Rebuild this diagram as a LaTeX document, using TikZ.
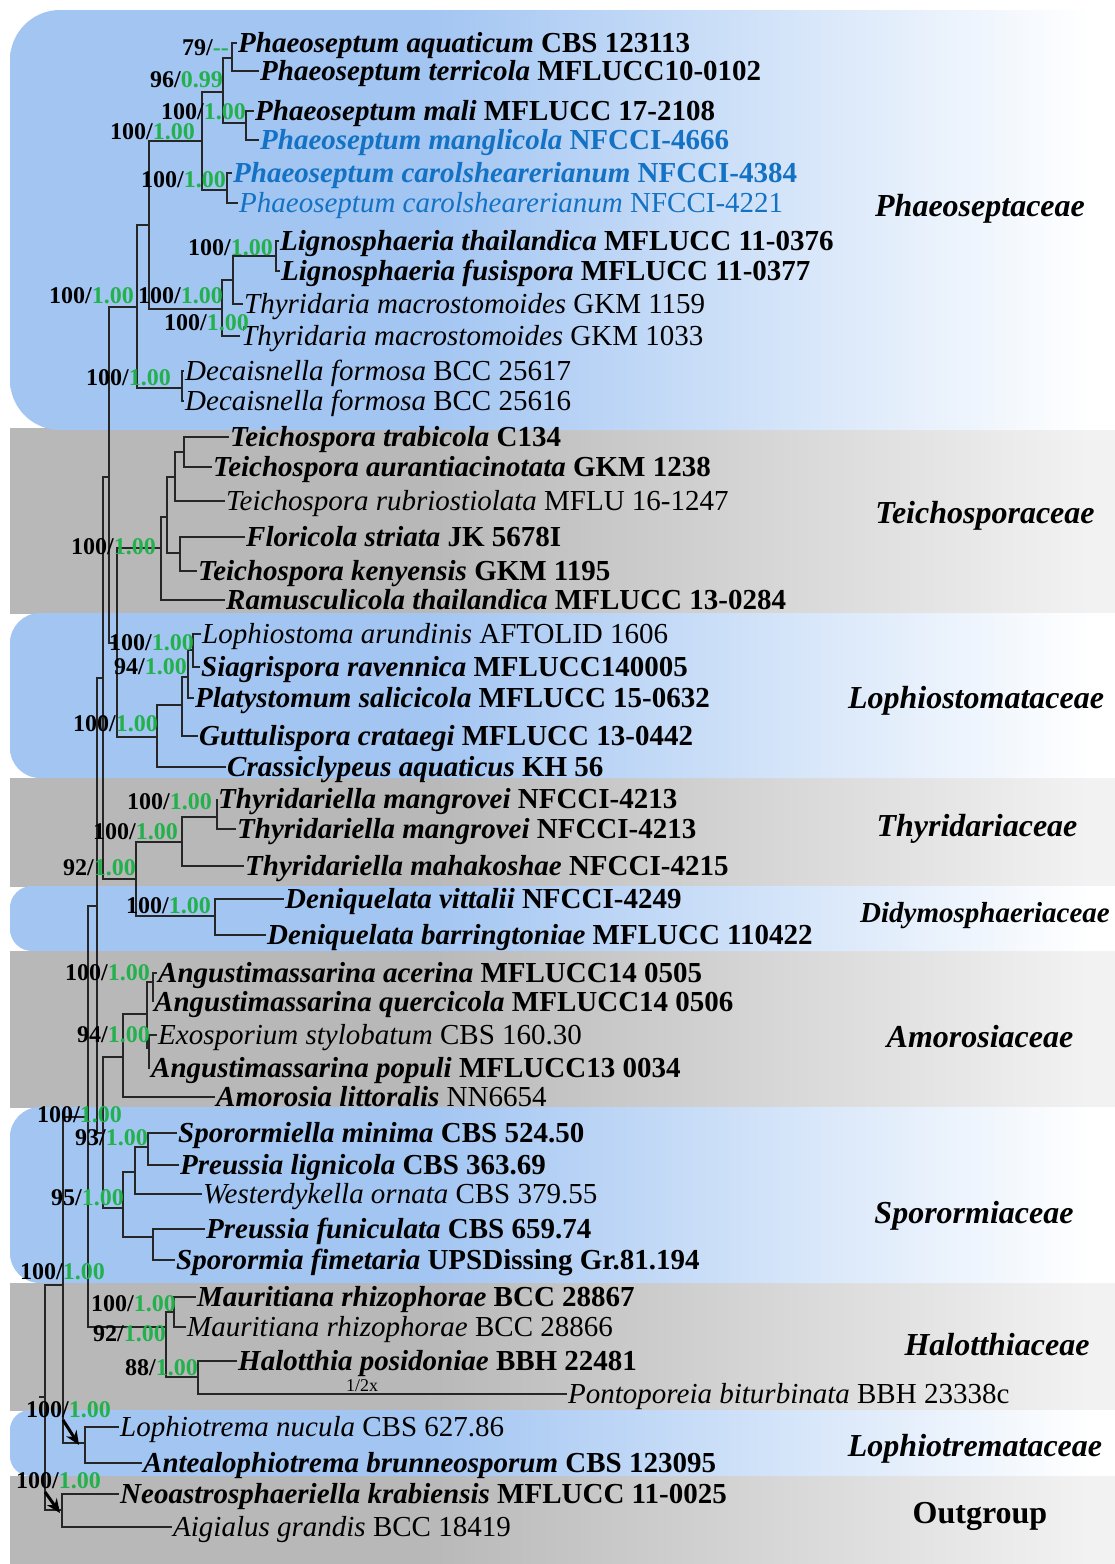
\documentclass[tikz,border=0pt]{standalone}
\usepackage{fontspec}
\setmainfont{Liberation Serif}
\usetikzlibrary{arrows.meta}

\definecolor{bandblue}{RGB}{162,197,242}
\definecolor{bandgray}{RGB}{184,184,184}
\definecolor{suppgreen}{RGB}{34,177,76}
\definecolor{taxblue}{RGB}{20,114,196}

\pgfdeclarehorizontalshading{blueband}{100bp}{color(0bp)=(bandblue); color(43bp)=(bandblue); color(72bp)=(white); color(100bp)=(white)}
\pgfdeclarehorizontalshading{grayband}{100bp}{color(0bp)=(bandgray); color(43bp)=(bandgray); color(72bp)=(black!5); color(100bp)=(black!5)}

\newcommand{\taxB}[2]{\textbf{\textit{#1} #2}}
\newcommand{\taxR}[2]{\textit{#1} #2}
\newcommand{\supval}[2]{#1/\textcolor{suppgreen}{#2}}

\tikzset{
  taxon/.style={anchor=west, inner sep=1pt, text height=25pt, text depth=6pt, font=\fontsize{29}{32}\selectfont},
  bluetaxon/.style={taxon, text=taxblue},
  supp/.style={anchor=east, inner sep=0pt, font=\fontsize{24}{26}\selectfont\bfseries},
  family/.style={font=\fontsize{32}{36}\selectfont\bfseries\itshape},
  branch/.style={line width=1.2pt, draw=black!85},
  markarrow/.style={draw=black, line width=3pt, -{Stealth[length=14pt,width=12pt]}},
}

\begin{document}
\begin{tikzpicture}[x=1pt,y=-1pt]
\useasboundingbox (0,0) rectangle (1115,1564);

% family bands
\shade[shading=grayband] (10,428) rectangle (1160,613);
\shade[shading=grayband] (10,778) rectangle (1160,886);
\shade[shading=grayband] (10,951) rectangle (1160,1107);
\shade[shading=grayband] (10,1283) rectangle (1160,1410);
\shade[shading=grayband] (10,1476) rectangle (1160,1600);
\shade[shading=blueband, rounded corners=50] (10,10) rectangle (1160,430);
\shade[shading=blueband, rounded corners=30] (10,613) rectangle (1160,778);
\shade[shading=blueband, rounded corners=22] (10,886) rectangle (1160,951);
\shade[shading=blueband, rounded corners=30] (10,1107) rectangle (1160,1283);
\shade[shading=blueband, rounded corners=20] (10,1410) rectangle (1160,1476);

% family names
\node[family] (fPhae) at (980,209) {Phaeoseptaceae};
\node[family] (fTeic) at (985,516) {Teichosporaceae};
\node[family] (fLoph) at (976,701) {Lophiostomataceae};
\node[family] (fThyr) at (977,829) {Thyridariaceae};
\node[family, font=\fontsize{29}{32}\selectfont\bfseries\itshape] (fDidy) at (985,916) {Didymosphaeriaceae};
\node[family] (fAmor) at (980,1037) {Amorosiaceae};
\node[family] (fSpor) at (974,1216) {Sporormiaceae};
\node[family] (fHalo) at (997,1345) {Halotthiaceae};
\node[family] (fLotr) at (975,1449) {Lophiotremataceae};
\node[family, font=\fontsize{32}{36}\selectfont\bfseries] (fOut) at (980,1516) {Outgroup};

% taxa
\node[taxon] (l1) at (237,43) {\taxB{Phaeoseptum aquaticum}{CBS 123113}};
\node[taxon] (l2) at (259,71) {\taxB{Phaeoseptum terricola}{MFLUCC10-0102}};
\node[taxon] (l3) at (254,111) {\taxB{Phaeoseptum mali}{MFLUCC 17-2108}};
\node[bluetaxon] (l4) at (259,140) {\taxB{Phaeoseptum manglicola}{NFCCI-4666}};
\node[bluetaxon] (l5) at (232,173) {\taxB{Phaeoseptum carolshearerianum}{NFCCI-4384}};
\node[bluetaxon] (l6) at (238,203) {\taxR{Phaeoseptum carolshearerianum}{NFCCI-4221}};
\node[taxon] (l7) at (279,241) {\taxB{Lignosphaeria thailandica}{MFLUCC 11-0376}};
\node[taxon] (l8) at (280,271) {\taxB{Lignosphaeria fusispora}{MFLUCC 11-0377}};
\node[taxon] (l9) at (243,304) {\taxR{Thyridaria macrostomoides}{GKM 1159}};
\node[taxon] (l10) at (240,336) {\taxR{Thyridaria macrostomoides}{GKM 1033}};
\node[taxon] (l11) at (184,371) {\taxR{Decaisnella formosa}{BCC 25617}};
\node[taxon] (l12) at (184,401) {\taxR{Decaisnella formosa}{BCC 25616}};
\node[taxon] (l13) at (229,437) {\taxB{Teichospora trabicola}{C134}};
\node[taxon] (l14) at (212,467) {\taxB{Teichospora aurantiacinotata}{GKM 1238}};
\node[taxon] (l15) at (225,501) {\taxR{Teichospora rubriostiolata}{MFLU 16-1247}};
\node[taxon] (l16) at (245,537) {\taxB{Floricola striata}{JK 5678I}};
\node[taxon] (l17) at (197,571) {\taxB{Teichospora kenyensis}{GKM 1195}};
\node[taxon] (l18) at (225,600) {\taxB{Ramusculicola thailandica}{MFLUCC 13-0284}};
\node[taxon] (l19) at (201,634) {\taxR{Lophiostoma arundinis}{AFTOLID 1606}};
\node[taxon] (l20) at (200,667) {\taxB{Siagrispora ravennica}{MFLUCC140005}};
\node[taxon] (l21) at (194,698) {\taxB{Platystomum salicicola}{MFLUCC 15-0632}};
\node[taxon] (l22) at (198,736) {\taxB{Guttulispora crataegi}{MFLUCC 13-0442}};
\node[taxon] (l23) at (226,767) {\taxB{Crassiclypeus aquaticus}{KH 56}};
\node[taxon] (l24) at (217,799) {\taxB{Thyridariella mangrovei}{NFCCI-4213}};
\node[taxon] (l25) at (236,829) {\taxB{Thyridariella mangrovei}{NFCCI-4213}};
\node[taxon] (l26) at (244,866) {\taxB{Thyridariella mahakoshae}{NFCCI-4215}};
\node[taxon] (l27) at (284,899) {\taxB{Deniquelata vittalii}{NFCCI-4249}};
\node[taxon] (l28) at (266,935) {\taxB{Deniquelata barringtoniae}{MFLUCC 110422}};
\node[taxon] (l29) at (157,973) {\taxB{Angustimassarina acerina}{MFLUCC14 0505}};
\node[taxon] (l30) at (153,1002) {\taxB{Angustimassarina quercicola}{MFLUCC14 0506}};
\node[taxon] (l31) at (157,1035) {\taxR{Exosporium stylobatum}{CBS 160.30}};
\node[taxon] (l32) at (150,1068) {\taxB{Angustimassarina populi}{MFLUCC13 0034}};
\node[taxon] (l33) at (215,1097) {\textbf{\textit{Amorosia littoralis}} NN6654};
\node[taxon] (l34) at (177,1133) {\taxB{Sporormiella minima}{CBS 524.50}};
\node[taxon] (l35) at (179,1165) {\taxB{Preussia lignicola}{CBS 363.69}};
\node[taxon] (l36) at (202,1194) {\taxR{Westerdykella ornata}{CBS 379.55}};
\node[taxon] (l37) at (205,1229) {\taxB{Preussia funiculata}{CBS 659.74}};
\node[taxon] (l38) at (175,1260) {\taxB{Sporormia fimetaria}{UPSDissing Gr.81.194}};
\node[taxon] (l39) at (196,1297) {\taxB{Mauritiana rhizophorae}{BCC 28867}};
\node[taxon] (l40) at (186,1327) {\taxR{Mauritiana rhizophorae}{BCC 28866}};
\node[taxon] (l41) at (237,1361) {\taxB{Halotthia posidoniae}{BBH 22481}};
\node[taxon] (l42) at (567,1394) {\taxR{Pontoporeia biturbinata}{BBH 23338c}};
\node[taxon] (l43) at (119,1427) {\taxR{Lophiotrema nucula}{CBS 627.86}};
\node[taxon] (l44) at (142,1463) {\taxB{Antealophiotrema brunneosporum}{CBS 123095}};
\node[taxon] (l45) at (119,1494) {\taxB{Neoastrosphaeriella krabiensis}{MFLUCC 11-0025}};
\node[taxon] (l46) at (172,1527) {\taxR{Aigialus grandis}{BCC 18419}};

% internal nodes
\coordinate (root) at (39,1397);
\coordinate (n0) at (45,1397);
\coordinate (n1) at (63,1285);
\coordinate (nOut) at (62,1510);
\coordinate (nLtr) at (85,1443);
\coordinate (n2) at (88,1117);
\coordinate (n3) at (97,906);
\coordinate (n4) at (103,678);
\coordinate (n5) at (103,1133);
\coordinate (n6) at (109,477);
\coordinate (n7) at (117,643);
\coordinate (nHal) at (166,1327);
\coordinate (nMau) at (174,1312);
\coordinate (nHalo) at (198,1377);
\coordinate (nPhae) at (137,307);
\coordinate (nPL) at (149,225);
\coordinate (nDec) at (182,388);
\coordinate (nPh) at (202,141);
\coordinate (nP4) at (223,92);
\coordinate (nAT) at (232,58);
\coordinate (nMM) at (246,123);
\coordinate (nCar) at (227,190);
\coordinate (nThyr) at (222,309);
\coordinate (nLT) at (233,280);
\coordinate (nLig) at (276,256);
\coordinate (nTeich) at (161,548);
\coordinate (nT4) at (167,517);
\coordinate (nTR) at (175,477);
\coordinate (nTra) at (184,452);
\coordinate (nFlo) at (180,553);
\coordinate (nLoph) at (157,737);
\coordinate (nL4) at (182,705);
\coordinate (nL3) at (188,677);
\coordinate (nL2) at (193,650);
\coordinate (nThyDid) at (136,879);
\coordinate (nThy) at (182,842);
\coordinate (nThm) at (217,817);
\coordinate (nDid) at (215,916);
\coordinate (nAmor) at (123,1057);
\coordinate (nAng) at (147,1014);
\coordinate (nAcer) at (153,982);
\coordinate (nExo) at (149,1048);
\coordinate (nSpor) at (123,1208);
\coordinate (nS3) at (135,1172);
\coordinate (nS1) at (148,1147);
\coordinate (nS2) at (153,1237);

% backbone
\draw[branch] (root) -- (n0);
\draw[branch] (n0) |- (n1);
\draw[branch] (n0) |- (nOut);
\draw[branch] (n1) |- (n2);
\draw[branch] (n1) |- (nLtr);
\draw[branch] (n2) |- (n3);
\draw[branch] (n2) |- (nHal);
\draw[branch] (n3) |- (n4);
\draw[branch] (n3) |- (n5);
\draw[branch] (n4) |- (n6);
\draw[branch] (n4) |- (nThyDid);
\draw[branch] (n6) |- (nPhae);
\draw[branch] (n6) |- (n7);
\draw[branch] (n7) |- (nTeich);
\draw[branch] (n7) |- (nLoph);
\draw[branch] (n5) |- (nAmor);
\draw[branch] (n5) |- (nSpor);

% Phaeoseptaceae
\draw[branch] (nPhae) |- (nPL);
\draw[branch] (nPhae) |- (nDec);
\draw[branch] (nDec) |- (l11.west);
\draw[branch] (nDec) |- (l12.west);
\draw[branch] (nPL) |- (nPh);
\draw[branch] (nPL) |- (nThyr);
\draw[branch] (nPh) |- (nP4);
\draw[branch] (nPh) |- (nCar);
\draw[branch] (nP4) |- (nAT);
\draw[branch] (nP4) |- (nMM);
\draw[branch] (nAT) |- (l1.west);
\draw[branch] (nAT) |- (l2.west);
\draw[branch] (nMM) |- (l3.west);
\draw[branch] (nMM) |- (l4.west);
\draw[branch] (nCar) |- (l5.west);
\draw[branch] (nCar) |- (l6.west);
\draw[branch] (nThyr) |- (nLT);
\draw[branch] (nThyr) |- (l10.west);
\draw[branch] (nLT) |- (nLig);
\draw[branch] (nLT) |- (l9.west);
\draw[branch] (nLig) |- (l7.west);
\draw[branch] (nLig) |- (l8.west);

% Teichosporaceae
\draw[branch] (nTeich) |- (nT4);
\draw[branch] (nTeich) |- (l18.west);
\draw[branch] (nT4) |- (nTR);
\draw[branch] (nT4) |- (nFlo);
\draw[branch] (nTR) |- (nTra);
\draw[branch] (nTR) |- (l15.west);
\draw[branch] (nTra) |- (l13.west);
\draw[branch] (nTra) |- (l14.west);
\draw[branch] (nFlo) |- (l16.west);
\draw[branch] (nFlo) |- (l17.west);

% Lophiostomataceae
\draw[branch] (nLoph) |- (nL4);
\draw[branch] (nLoph) |- (l23.west);
\draw[branch] (nL4) |- (nL3);
\draw[branch] (nL4) |- (l22.west);
\draw[branch] (nL3) |- (nL2);
\draw[branch] (nL3) |- (l21.west);
\draw[branch] (nL2) |- (l19.west);
\draw[branch] (nL2) |- (l20.west);

% Thyridariaceae and Didymosphaeriaceae
\draw[branch] (nThyDid) |- (nThy);
\draw[branch] (nThyDid) |- (nDid);
\draw[branch] (nThy) |- (nThm);
\draw[branch] (nThy) |- (l26.west);
\draw[branch] (nThm) |- (l24.west);
\draw[branch] (nThm) |- (l25.west);
\draw[branch] (nDid) |- (l27.west);
\draw[branch] (nDid) |- (l28.west);

% Amorosiaceae
\draw[branch] (nAmor) |- (nAng);
\draw[branch] (nAmor) |- (l33.west);
\draw[branch] (nAng) |- (nAcer);
\draw[branch] (nAng) |- (nExo);
\draw[branch] (nAcer) |- (l29.west);
\draw[branch] (nAcer) |- (l30.west);
\draw[branch] (nExo) |- (l31.west);
\draw[branch] (nExo) |- (l32.west);

% Sporormiaceae
\draw[branch] (nSpor) |- (nS3);
\draw[branch] (nSpor) |- (nS2);
\draw[branch] (nS3) |- (nS1);
\draw[branch] (nS3) |- (l36.west);
\draw[branch] (nS1) |- (l34.west);
\draw[branch] (nS1) |- (l35.west);
\draw[branch] (nS2) |- (l37.west);
\draw[branch] (nS2) |- (l38.west);

% Halotthiaceae
\draw[branch] (nHal) |- (nMau);
\draw[branch] (nHal) |- (nHalo);
\draw[branch] (nMau) |- (l39.west);
\draw[branch] (nMau) |- (l40.west);
\draw[branch] (nHalo) |- (l41.west);
\draw[branch] (nHalo) |- (l42.west);
\node[font=\fontsize{18}{20}\selectfont, inner sep=0pt] (half) at (362,1386) {1/2x};

% Lophiotremataceae and outgroup
\draw[branch] (nLtr) |- (l43.west);
\draw[branch] (nLtr) |- (l44.west);
\draw[branch] (nOut) |- (l45.west);
\draw[branch] (nOut) |- (l46.west);

% arrows
\coordinate (a1s) at (63,1420);
\coordinate (a1e) at (79,1445);
\coordinate (a2s) at (45,1492);
\coordinate (a2e) at (60,1513);
\draw[markarrow] (a1s) -- (a1e);
\draw[markarrow] (a2s) -- (a2e);

% support values
\node[supp] (s1) at (229,48) {\supval{79}{{-}{-}}};
\node[supp] (s2) at (223,80) {\supval{96}{0.99}};
\node[supp] (s3) at (246,112) {\supval{100}{1.00}};
\node[supp] (s4) at (195,132) {\supval{100}{1.00}};
\node[supp] (s5) at (226,180) {\supval{100}{1.00}};
\node[supp] (s6) at (273,248) {\supval{100}{1.00}};
\node[supp] (s7) at (134,296) {\supval{100}{1.00}};
\node[supp] (s8) at (223,296) {\supval{100}{1.00}};
\node[supp] (s9) at (249,323) {\supval{100}{1.00}};
\node[supp] (s10) at (171,378) {\supval{100}{1.00}};
\node[supp] (s11) at (156,547) {\supval{100}{1.00}};
\node[supp] (s12) at (194,643) {\supval{100}{1.00}};
\node[supp] (s13) at (187,667) {\supval{94}{1.00}};
\node[supp] (s14) at (158,724) {\supval{100}{1.00}};
\node[supp] (s15) at (212,802) {\supval{100}{1.00}};
\node[supp] (s16) at (178,832) {\supval{100}{1.00}};
\node[supp] (s17) at (136,868) {\supval{92}{1.00}};
\node[supp] (s18) at (211,906) {\supval{100}{1.00}};
\node[supp] (s19) at (150,973) {\supval{100}{1.00}};
\node[supp] (s20) at (150,1035) {\supval{94}{1.00}};
\node[supp] (s21) at (122,1115) {\supval{100}{1.00}};
\node[supp] (s22) at (148,1138) {\supval{93}{1.00}};
\node[supp] (s23) at (124,1198) {\supval{95}{1.00}};
\node[supp] (s24) at (105,1272) {\supval{100}{1.00}};
\node[supp] (s25) at (176,1304) {\supval{100}{1.00}};
\node[supp] (s26) at (166,1334) {\supval{92}{1.00}};
\node[supp] (s27) at (198,1368) {\supval{88}{1.00}};
\node[supp] (s28) at (111,1410) {\supval{100}{1.00}};
\node[supp] (s29) at (101,1481) {\supval{100}{1.00}};
\end{tikzpicture}
\end{document}
